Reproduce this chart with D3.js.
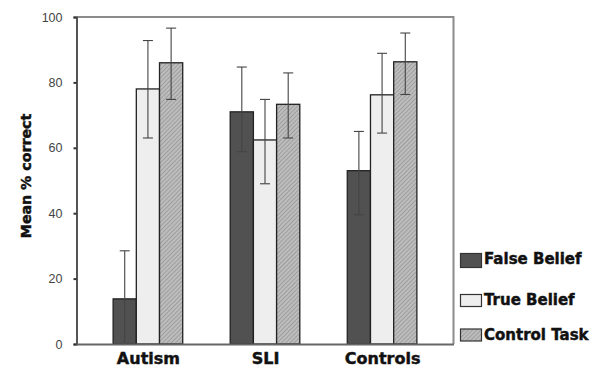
<!DOCTYPE html>
<html><head><meta charset="utf-8">
<script src="https://cdn.jsdelivr.net/npm/d3@7"></script>
<style>body{margin:0;background:#fff}svg{display:block}</style>
</head><body>
<script>
const categories = ["Autism", "SLI", "Controls"];
const seriesNames = ["False Belief", "True Belief", "Control Task"];
const falseBelief = [13.8, 71.0, 53.0];
const trueBelief = [78.0, 62.4, 76.2];
const controlTask = [86.0, 73.3, 86.3];
const falseBeliefLo = [0, 58.8, 39.5];
const falseBeliefHi = [28.5, 84.7, 65.0];
const trueBeliefLo = [63.0, 49.0, 64.5];
const trueBeliefHi = [92.8, 74.8, 88.9];
const controlTaskLo = [74.8, 63.0, 76.3];
const controlTaskHi = [96.6, 82.9, 95.1];
const yTicks = [0, 20, 40, 60, 80, 100];

const values = [falseBelief, trueBelief, controlTask];
const lows = [falseBeliefLo, trueBeliefLo, controlTaskLo];
const highs = [falseBeliefHi, trueBeliefHi, controlTaskHi];

const W = 607, H = 368;
const L = 76.5, R = 453.5, T = 17, B = 344;
const svg = d3.select("body").append("svg").attr("width", W).attr("height", H);

const defs = svg.append("defs");
const pat = defs.append("pattern").attr("id", "hatch").attr("patternUnits", "userSpaceOnUse")
  .attr("width", 3).attr("height", 3).attr("patternTransform", "rotate(45)");
pat.append("rect").attr("width", 3).attr("height", 3).attr("fill", "#bdbdbd");
pat.append("line").attr("x1", 0).attr("y1", 0).attr("x2", 0).attr("y2", 3)
  .attr("stroke", "#8a8a8a").attr("stroke-width", 1.2);

const fills = ["#515151", "#eeeeee", "url(#hatch)"];

const y = d3.scaleLinear().domain([0, 100]).range([B, T]);
const x0 = d3.scalePoint().domain(categories).range([L, R]).padding(0.61);
const bw = 23.2;
const x1 = d3.scaleBand().domain(seriesNames).range([-bw * 1.5, bw * 1.5]);

// frame
svg.append("path").attr("d", `M${L},${T}H${R}V${B}`).attr("fill", "none")
  .attr("stroke", "#8c8c8c").attr("stroke-width", 2);

// bars
const g = svg.append("g");
seriesNames.forEach((s, si) => {
  categories.forEach((c, ci) => {
    const xx = x0(c) + x1(s);
    g.append("rect").attr("x", xx).attr("y", y(values[si][ci]))
      .attr("width", x1.bandwidth()).attr("height", B - y(values[si][ci]))
      .attr("fill", fills[si]).attr("stroke", "#222").attr("stroke-width", 1.3);
  });
});
// error bars
seriesNames.forEach((s, si) => {
  categories.forEach((c, ci) => {
    const cx = x0(c) + x1(s) + x1.bandwidth() / 2;
    const eg = g.append("g").attr("stroke", "#444").attr("stroke-width", 1.1);
    eg.append("line").attr("x1", cx).attr("x2", cx).attr("y1", y(highs[si][ci])).attr("y2", y(lows[si][ci]));
    eg.append("line").attr("x1", cx - 5).attr("x2", cx + 5).attr("y1", y(highs[si][ci])).attr("y2", y(highs[si][ci]));
    if (lows[si][ci] > 0)
      eg.append("line").attr("x1", cx - 5).attr("x2", cx + 5).attr("y1", y(lows[si][ci])).attr("y2", y(lows[si][ci]));
  });
});

// y axis
const ya = svg.append("g").attr("transform", `translate(${L},0)`)
  .call(d3.axisLeft(y).tickValues(yTicks).tickSize(3).tickPadding(11));
ya.select(".domain").attr("stroke", "#555").attr("stroke-width", 2);
ya.selectAll(".tick line").attr("stroke", "#333").attr("stroke-width", 2);
ya.selectAll(".tick text").attr("font-family", "Liberation Sans, Arial, sans-serif")
  .attr("font-size", 12.5).attr("fill", "#444");

const heavy = sel => sel.attr("font-family", "DejaVu Sans, sans-serif").attr("font-weight", "bold")
  .attr("fill", "#111").attr("stroke", "#111").attr("stroke-width", 0.45);

// x axis
const xa = svg.append("g").attr("transform", `translate(0,${B})`)
  .call(d3.axisBottom(x0).tickSize(0).tickPadding(9));
xa.select(".domain").attr("stroke", "#666").attr("stroke-width", 2);
heavy(xa.selectAll(".tick text")).attr("font-size", 16);

// y title
heavy(svg.append("text").attr("transform", "translate(31,176) rotate(-90)")
  .attr("text-anchor", "middle").attr("font-size", 14.2).text("Mean % correct"));

// legend
const legY = [253.5, 294.5, 329];
seriesNames.forEach((s, i) => {
  svg.append("rect").attr("x", 460.5).attr("y", legY[i]).attr("width", 21).attr("height", i === 0 ? 14 : 12)
    .attr("fill", fills[i]).attr("stroke", "#333").attr("stroke-width", 1.2);
  heavy(svg.append("text").attr("x", 484).attr("y", legY[i] + 10.5)
    .attr("font-size", 15).text(s));
});
</script>
</body></html>
